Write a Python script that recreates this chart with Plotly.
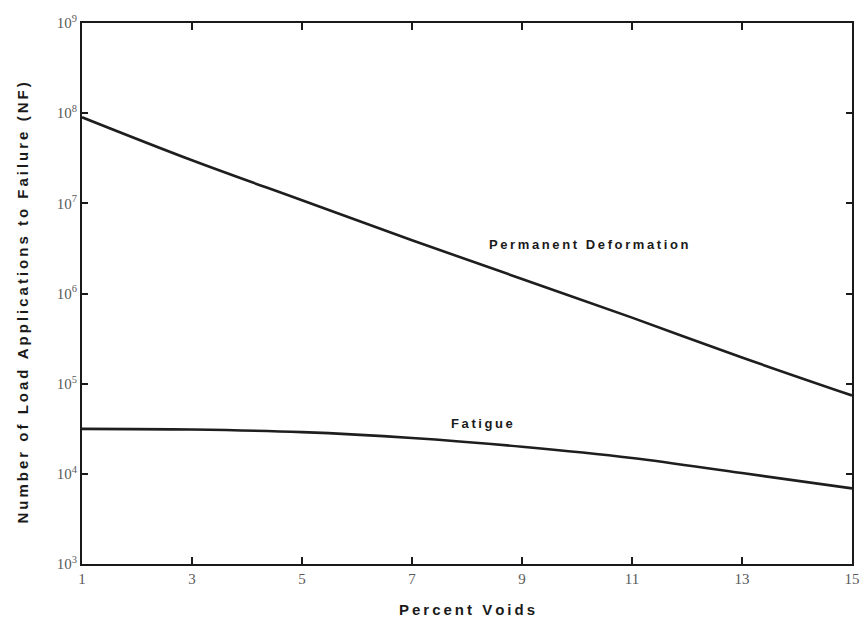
import math
import plotly.graph_objects as go

# Percent air voids in the mix
percent_voids = [1, 3, 5, 7, 9, 11, 13, 15]

# Number of load applications to failure (NF)
permanent_deformation = [9.0e7, 3.0e7, 1.08e7, 3.9e6, 1.45e6, 5.4e5, 1.95e5, 7.4e4]
fatigue = [3.15e4, 3.1e4, 2.9e4, 2.5e4, 2.0e4, 1.5e4, 1.02e4, 6.9e3]

x_ticks = [1, 3, 5, 7, 9, 11, 13, 15]
y_exponents = [3, 4, 5, 6, 7, 8, 9]

curve_labels = [
    ("Permanent Deformation", 10.2, 3.5e6),
    ("Fatigue", 8.28, 3.6e4),
]

THIN = "\u2009"


def spaced(text):
    """Open up the letter spacing of a label with thin spaces."""
    return THIN.join(text)


line_style = dict(color="#1e1e1e", width=2.6, shape="spline", smoothing=1.0)

fig = go.Figure()
fig.add_trace(go.Scatter(x=percent_voids, y=permanent_deformation, mode="lines",
                         line=line_style, name="Permanent Deformation", showlegend=False))
fig.add_trace(go.Scatter(x=percent_voids, y=fatigue, mode="lines",
                         line=line_style, name="Fatigue", showlegend=False))

# annotation y on a log axis is given in log10 units
for text, xv, yv in curve_labels:
    fig.add_annotation(x=xv, y=math.log10(yv), xref="x", yref="y",
                       text=f"<b>{spaced(text)}</b>", showarrow=False,
                       font=dict(family="Liberation Sans", size=13, color="#1a1a1a"),
                       yanchor="middle", xanchor="center")

tick_font = dict(family="Liberation Serif", size=15, color="#5a5a5a")
title_font = dict(family="Liberation Sans", size=15, color="#1a1a1a")

# y-axis title, placed as a rotated annotation in the left margin
fig.add_annotation(x=0, y=0.5, xref="paper", yref="paper", xshift=-60, yshift=-10,
                   text=f"<b>{spaced('Number of Load Applications to Failure (NF)')}</b>",
                   textangle=-90, showarrow=False, font=title_font,
                   xanchor="center", yanchor="middle")

fig.update_xaxes(
    range=[1, 15], tickvals=x_ticks, ticktext=[str(v) for v in x_ticks],
    ticks="inside", ticklen=7, tickwidth=2, tickcolor="#1a1a1a",
    showline=True, linecolor="#1a1a1a", linewidth=2, mirror="ticks",
    showgrid=False, zeroline=False, tickfont=tick_font, ticklabeloverflow="allow",
    title=dict(text=f"<b>{spaced('Percent Voids')}</b>", font=title_font, standoff=18),
)
fig.update_yaxes(
    type="log", range=[3, 9], tickvals=[10 ** e for e in y_exponents],
    ticktext=[f"10<sup>{e}</sup>" for e in y_exponents],
    ticks="inside", ticklen=6, tickwidth=2, tickcolor="#1a1a1a",
    showline=True, linecolor="#1a1a1a", linewidth=2, mirror="ticks",
    showgrid=False, zeroline=False, tickfont=tick_font, ticklabeloverflow="allow",
)

fig.update_layout(
    width=862, height=625,
    margin=dict(l=82, r=2, t=23, b=61),
    paper_bgcolor="white", plot_bgcolor="white",
)

fig.write_html("out.html")
